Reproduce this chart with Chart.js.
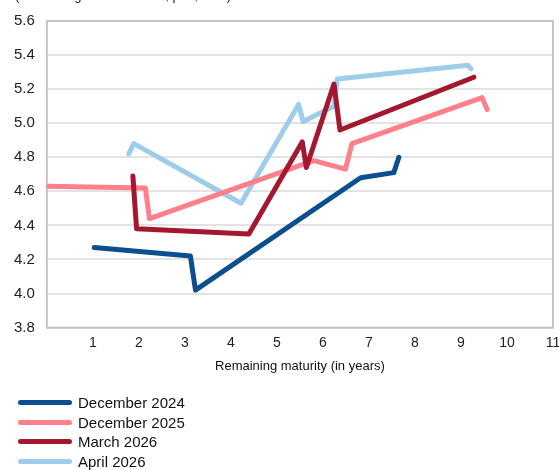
<!DOCTYPE html>
<html>
<head>
<meta charset="utf-8">
<script src="https://cdn.jsdelivr.net/npm/chart.js@4/dist/chart.umd.min.js"></script>
<style>
  html, body { margin: 0; padding: 0; background: #fff; overflow: hidden; }
  #wrap { position: relative; width: 559px; height: 470px; overflow: hidden; }
  #unit { position: absolute; left: 15px; top: -11px; font: 13px "Liberation Sans", Arial, sans-serif; color: #222; white-space: nowrap; line-height: 13px; }
  #legend { position: absolute; left: 18px; top: 393px; font: 15px "Liberation Sans", Arial, sans-serif; color: #111; }
  .item { height: 19.5px; display: flex; align-items: center; }
  .swatch { width: 54px; height: 5px; border-radius: 3px; margin-right: 6px; }
</style>
</head>
<body>
<div id="wrap">
  <canvas id="yieldChart" width="559" height="470"></canvas>
  <div id="unit">(Remaining term structure, p.a., in %)</div>
  <div id="legend"></div>
</div>
<script>
// === yield curves ===
const seriesNames = ['December 2024', 'December 2025', 'March 2026', 'April 2026'];
const seriesColors = ['#0b4f8f', '#ff808b', '#a3172f', '#9ecdeb'];

const dec2024Maturity = [1.03, 3.12, 3.23, 6.82, 7.54, 7.65];
const dec2024Yield = [4.27, 4.22, 4.02, 4.68, 4.71, 4.80];
const dec2025Maturity = [0, 2.14, 2.23, 5.80, 6.49, 6.63, 9.46, 9.57];
const dec2025Yield = [4.63, 4.62, 4.44, 4.78, 4.73, 4.88, 5.15, 5.08];
const mar2026Maturity = [1.87, 1.95, 4.39, 5.55, 5.64, 6.24, 6.37, 9.28];
const mar2026Yield = [4.69, 4.38, 4.35, 4.89, 4.74, 5.23, 4.96, 5.27];
const apr2026Maturity = [1.78, 1.89, 4.22, 5.47, 5.57, 6.24, 6.31, 9.15, 9.22];
const apr2026Yield = [4.82, 4.88, 4.53, 5.11, 5.01, 5.10, 5.26, 5.34, 5.32];

const xTicks = [1, 2, 3, 4, 5, 6, 7, 8, 9, 10, 11];
const yTicks = [3.8, 4.0, 4.2, 4.4, 4.6, 4.8, 5.0, 5.2, 5.4, 5.6];

const maturities = [dec2024Maturity, dec2025Maturity, mar2026Maturity, apr2026Maturity];
const yields = [dec2024Yield, dec2025Yield, mar2026Yield, apr2026Yield];
const drawOrder = [0, 2, 1, 3];

const toPoints = (xs, ys) => xs.map((x, i) => ({ x: x, y: ys[i] }));

const font = '"Liberation Sans", Arial, sans-serif';

const plotFrame = {
  id: 'plotFrame',
  beforeDatasetsDraw(chart) {
    const a = chart.chartArea;
    const ctx = chart.ctx;
    ctx.save();
    ctx.strokeStyle = '#c4c4c4';
    ctx.lineWidth = 2;
    ctx.strokeRect(a.left, a.top, a.right - a.left, a.bottom - a.top);
    ctx.restore();
  }
};

const yieldChart = new Chart(
  document.getElementById('yieldChart').getContext('2d'),
  {
    type: 'line',
    data: {
      datasets: seriesNames.map((name, i) => ({
        label: name,
        data: toPoints(maturities[i], yields[i]),
        borderColor: seriesColors[i],
        backgroundColor: seriesColors[i],
        borderWidth: 5,
        borderCapStyle: 'round',
        borderJoinStyle: 'round',
        pointRadius: 0,
        tension: 0,
        fill: false,
        order: drawOrder[i]
      }))
    },
    options: {
      responsive: false,
      animation: false,
      layout: { padding: { left: 2, top: 12, right: 0, bottom: 92 } },
      plugins: {
        legend: { display: false },
        tooltip: { enabled: false }
      },
      scales: {
        x: {
          type: 'linear',
          min: 0,
          max: 11,
          afterBuildTicks: axis => { axis.ticks = [0].concat(xTicks).map(v => ({ value: v })); },
          // let the last label hang a little past the plot, as in the original
          afterFit: axis => { axis.paddingRight = 6; },
          ticks: {
            callback: v => (xTicks.includes(v) ? String(v) : ''),
            color: '#222',
            font: { family: font, size: 14 },
            padding: 7,
            maxRotation: 0,
            autoSkip: false
          },
          grid: { display: false, drawTicks: false },
          border: { display: false },
          title: {
            display: true,
            text: 'Remaining maturity (in years)',
            color: '#111',
            font: { family: font, size: 13 },
            padding: { top: 0 }
          }
        },
        y: {
          min: 3.8,
          max: 5.6,
          afterBuildTicks: axis => { axis.ticks = yTicks.map(v => ({ value: v })); },
          ticks: {
            callback: v => v.toFixed(1),
            color: '#222',
            font: { family: font, size: 15 },
            padding: 12
          },
          grid: { color: '#e3e3e3', lineWidth: 2, drawTicks: false },
          border: { display: false }
        }
      }
    },
    plugins: [plotFrame]
  }
);

// legend stacked under the chart
const legend = document.getElementById('legend');
seriesNames.forEach((name, i) => {
  const row = document.createElement('div');
  row.className = 'item';
  const sw = document.createElement('span');
  sw.className = 'swatch';
  sw.style.background = seriesColors[i];
  const label = document.createElement('span');
  label.textContent = name;
  row.appendChild(sw);
  row.appendChild(label);
  legend.appendChild(row);
});
</script>
</body>
</html>
